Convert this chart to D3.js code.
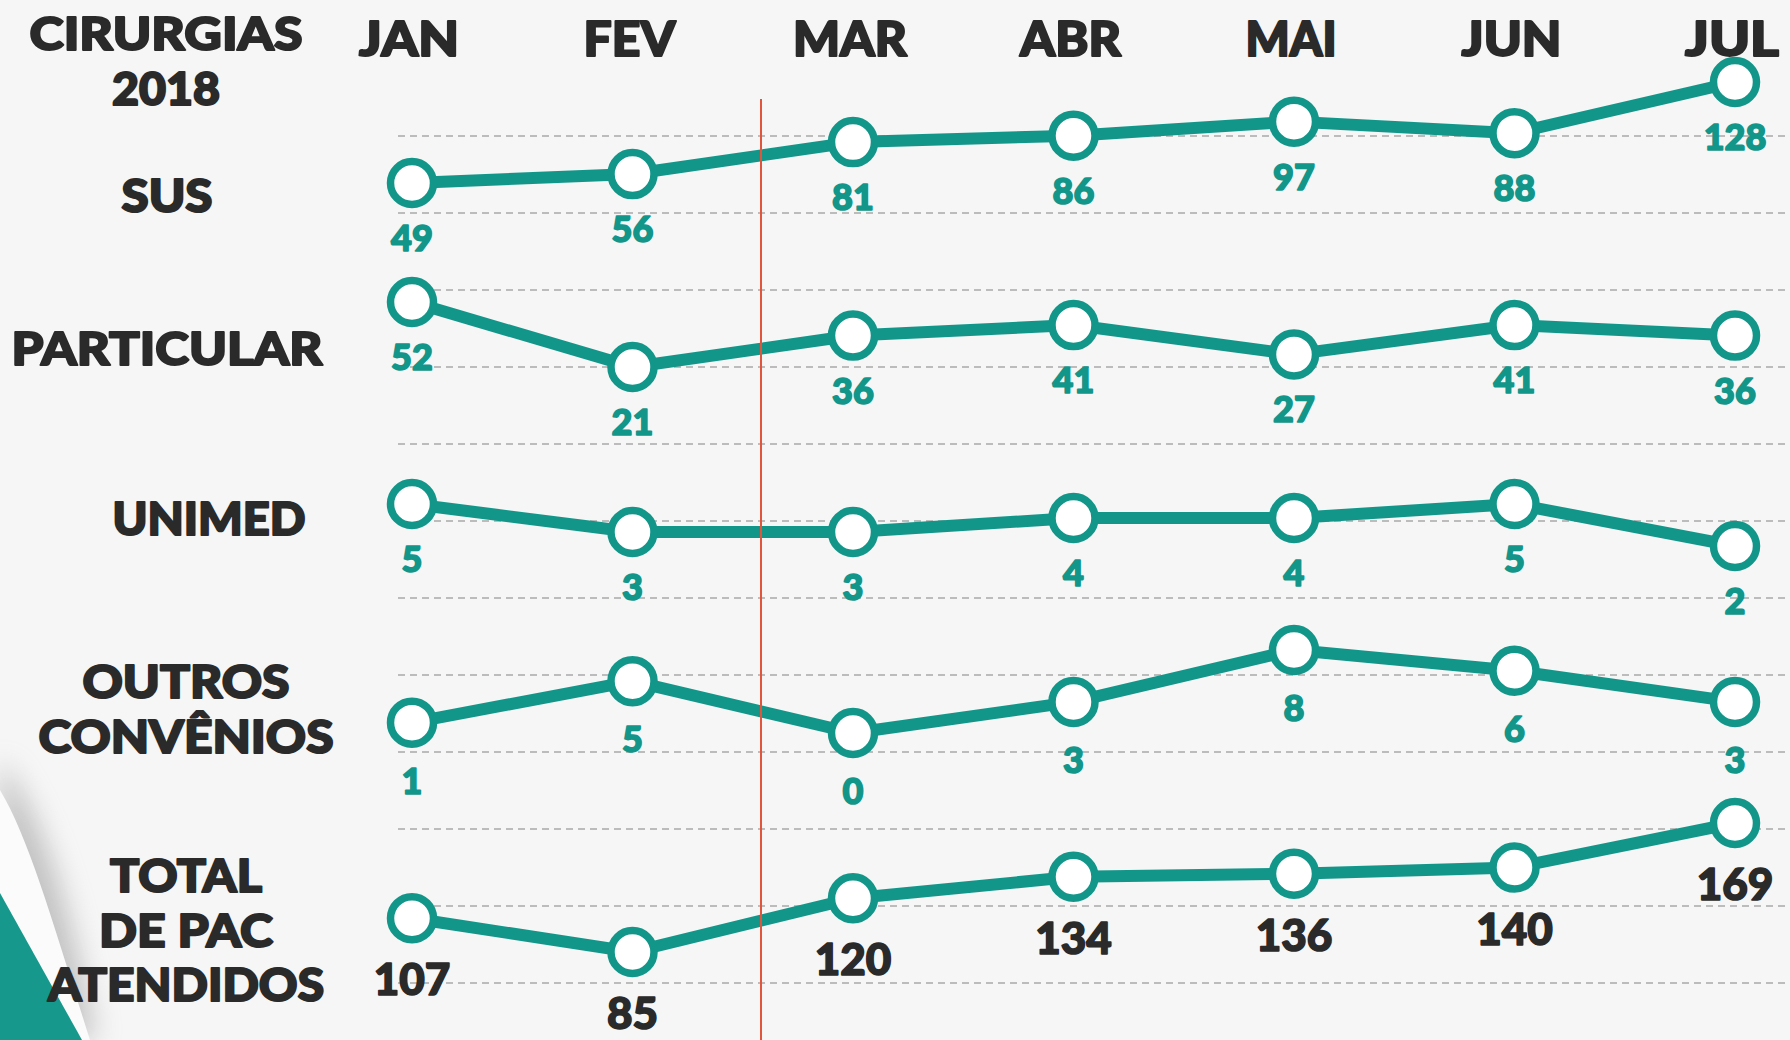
<!DOCTYPE html>
<html><head><meta charset="utf-8">
<script src="https://cdn.jsdelivr.net/npm/d3@7"></script>
<style>
html,body{margin:0;padding:0;background:#f6f6f6;}
svg{display:block;}
text{font-family:Lato,"Open Sans",sans-serif;font-weight:900;}
</style></head>
<body>
<div id="chart"></div>
<script>
// ---- data ----
const months = ["JAN","FEV","MAR","ABR","MAI","JUN","JUL"];
const sus = [49,56,81,86,97,88,128];
const particular = [52,21,36,41,27,41,36];
const unimed = [5,3,3,4,4,5,2];
const outros = [1,5,0,3,8,6,3];
const total = [107,85,120,134,136,140,169];
const titleLines = ["CIRURGIAS","2018"];
const rowNames = [["SUS"],["PARTICULAR"],["UNIMED"],["OUTROS","CONVÊNIOS"],["TOTAL","DE PAC","ATENDIDOS"]];

// ---- layout / style ----
const W = 1790, H = 1040;
const teal = "#13968a", dark = "#2a2a2a";
const textWidths = {"CIRURGIAS":273,"2018":108,"SUS":91,"PARTICULAR":311,"UNIMED":193,"OUTROS":207,
  "CONVÊNIOS":295,"TOTAL":152,"DE PAC":174,"ATENDIDOS":276,
  "JAN":100,"FEV":92,"MAR":114,"ABR":101,"MAI":91,"JUN":100,"JUL":94};

const svg = d3.select("#chart").append("svg").attr("width", W).attr("height", H);
svg.append("rect").attr("width", W).attr("height", H).attr("fill", "#f6f6f6");

const defs = svg.append("defs");
defs.append("filter").attr("id","blur").attr("x","-50%").attr("width","200%")
  .append("feGaussianBlur").attr("stdDeviation", 14);

// decorative corner
svg.append("path").attr("d","M0,760 C40,810 70,900 95,1040 L0,1040 Z")
  .attr("fill","#8f8f8f").attr("opacity",0.5).attr("filter","url(#blur)");
svg.append("path").attr("d","M0,790 C30,840 55,930 90,1040 L0,1040 Z").attr("fill","#fbfbfb");
svg.append("path").attr("d","M0,893 L82,1040 L0,1040 Z").attr("fill","#16998c");

const x = d3.scalePoint().domain(months).range([412, 1735]);

function heavy(sel, color, sw) {
  return sel.attr("fill", color).attr("stroke", color).attr("stroke-width", sw)
    .attr("stroke-linejoin", "round").attr("paint-order", "stroke");
}

// dashed guide lines
const gridIdx = d3.range(12);
const gy = d3.scaleLinear().domain([0, 11]).range([136, 983]);
svg.append("g").selectAll("line").data(gridIdx).join("line")
  .attr("x1", 398).attr("x2", W)
  .attr("y1", d => gy(d)).attr("y2", d => gy(d))
  .attr("stroke", "#a9a9a9").attr("stroke-width", 1.6).attr("stroke-dasharray", "7 5");

// month header
heavy(svg.append("g").selectAll("text").data(months).join("text")
  .attr("x", d => x(d) - 3).attr("y", 56)
  .attr("text-anchor", "middle").attr("font-size", 47)
  .attr("textLength", d => textWidths[d]).attr("lengthAdjust", "spacingAndGlyphs")
  .text(d => d), dark, 2);

// title
heavy(svg.append("g").selectAll("text").data(titleLines).join("text")
  .attr("x", 166).attr("y", (d, i) => 50 + i * 55)
  .attr("text-anchor", "middle").attr("font-size", 46)
  .attr("textLength", d => textWidths[d]).attr("lengthAdjust", "spacingAndGlyphs")
  .text(d => d), dark, 2);

const panels = [
  {values: sus, range: [183, 82], labelX: 167, labelY: [212], off: 54, big: false},
  {values: particular, range: [367, 302], labelX: 167, labelY: [365], off: 54, big: false},
  {values: unimed, range: [546, 504], labelX: 209, labelY: [535], off: 54, big: false},
  {values: outros, range: [733, 650], labelX: 186, labelY: [698, 753], off: 57, big: false},
  {values: total, range: [952, 823], labelX: 186, labelY: [892, 947, 1001], off: 60, big: true}
];

panels.forEach((p, pi) => {
  const y = d3.scaleLinear().domain(d3.extent(p.values)).range(p.range);
  const pts = p.values.map((v, i) => ({m: months[i], v}));
  heavy(svg.append("g").selectAll("text").data(rowNames[pi]).join("text")
    .attr("x", p.labelX).attr("y", (d, i) => p.labelY[i])
    .attr("text-anchor", "middle").attr("font-size", 46)
    .attr("textLength", d => textWidths[d]).attr("lengthAdjust", "spacingAndGlyphs")
    .text(d => d), dark, 2);
  svg.append("path").datum(pts)
    .attr("d", d3.line().x(d => x(d.m)).y(d => y(d.v)))
    .attr("fill", "none").attr("stroke", teal).attr("stroke-width", 12)
    .attr("stroke-linejoin", "round");
  p.y = y; p.pts = pts;
});

// red divider
svg.append("line").attr("x1", 761).attr("x2", 761).attr("y1", 99).attr("y2", H)
  .attr("stroke", "#e0553b").attr("stroke-width", 2);

panels.forEach(p => {
  const g = svg.append("g");
  g.selectAll("circle").data(p.pts).join("circle")
    .attr("cx", d => x(d.m)).attr("cy", d => p.y(d.v)).attr("r", 21.5)
    .attr("fill", "#ffffff").attr("stroke", teal).attr("stroke-width", 7.5);
  heavy(g.selectAll("text").data(p.pts).join("text")
    .attr("x", d => x(d.m)).attr("y", d => p.y(d.v) + p.off)
    .attr("dominant-baseline", "central").attr("text-anchor", "middle")
    .attr("font-size", p.big ? 44 : 36)
    .text(d => d.v), p.big ? dark : teal, 1.6);
});
</script>
</body></html>
